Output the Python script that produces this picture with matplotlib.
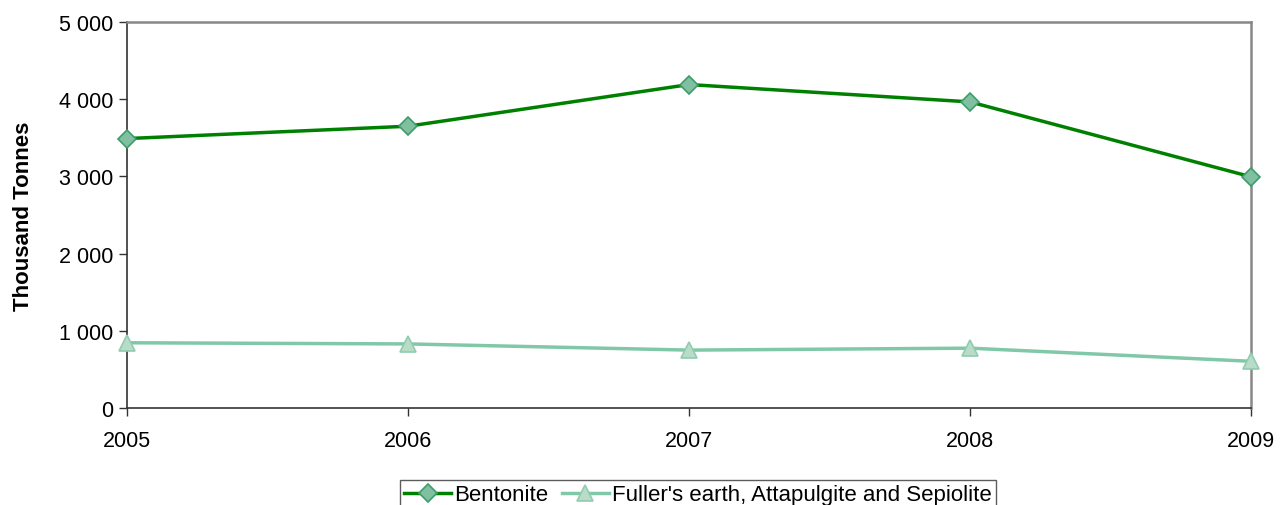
import numpy as np
import matplotlib
matplotlib.use("Agg")
import matplotlib.pyplot as plt
from matplotlib.ticker import FuncFormatter

years = [2005, 2006, 2007, 2008, 2009]
bentonite = [3490, 3650, 4190, 3965, 2995]
fullers = [845, 830, 750, 775, 605]

plt.rcParams['font.family'] = ['Liberation Sans', 'DejaVu Sans']

fig = plt.figure(figsize=(12.8, 5.06), dpi=100)
ax = fig.add_axes([127 / 1280, 1 - 409 / 506, 1124 / 1280, 386 / 506])

ax.plot(years, bentonite, color='#008000', lw=2.5, marker='D', ms=9,
        mfc='#80c0a0', mec='#3c9c6a', mew=1.2, label='Bentonite', zorder=3,
        clip_on=False)
ax.plot(years, fullers, color='#80c8a8', lw=2.5, marker='^', ms=12,
        mfc='#b8dcc8', mec='#90ccb0', mew=1.2,
        label="Fuller's earth, Attapulgite and Sepiolite", zorder=3,
        clip_on=False)

ax.set_xlim(2005, 2009)
ax.set_ylim(0, 5000)
ax.set_xticks(years)
ax.set_yticks(np.arange(0, 5001, 1000))
ax.yaxis.set_major_formatter(FuncFormatter(lambda v, p: f"{int(v):,}".replace(",", " ")))
ax.tick_params(labelsize=15.5, length=6, width=1, color='#333333', pad=4)
ax.tick_params(axis='x', pad=10)

for s in ['left', 'bottom']:
    ax.spines[s].set_color('#333333')
    ax.spines[s].set_linewidth(1.2)
for s in ['top', 'right']:
    ax.spines[s].set_color('#888888')
    ax.spines[s].set_linewidth(1.8)

ax.set_ylabel('Thousand Tonnes', fontsize=16, fontweight='bold', labelpad=18)

leg = fig.legend(loc='upper center', bbox_to_anchor=(698 / 1280, 1 - 481 / 506),
                 ncol=2, fontsize=16, frameon=True, fancybox=False,
                 edgecolor='#333333', borderpad=0.2, handlelength=2.1,
                 handletextpad=0.15, columnspacing=0.6, borderaxespad=0)
leg.get_frame().set_linewidth(1)

fig.savefig('out.png', dpi=100)
